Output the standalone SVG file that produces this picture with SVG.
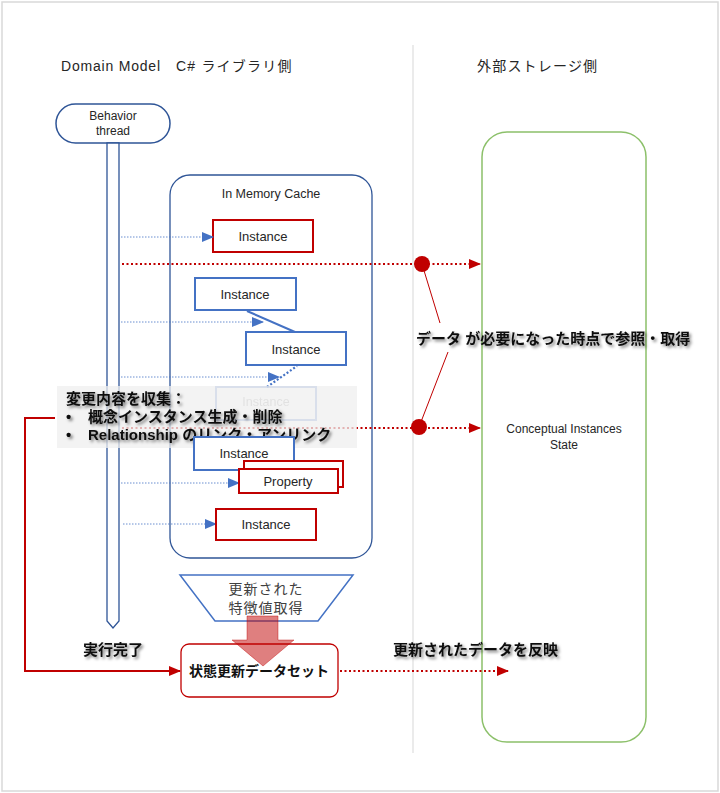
<svg xmlns="http://www.w3.org/2000/svg" width="720" height="793" viewBox="0 0 720 793">
<style>
.t{font-family:"Liberation Sans","Noto Sans CJK JP",sans-serif;fill:#262626}
.lbl{font-size:13px;text-anchor:middle}
.hd{font-size:14px;letter-spacing:0.8px;fill:#262626}
.b{font-family:"Liberation Sans","Noto Sans CJK JP",sans-serif;font-weight:bold;font-size:15px;fill:#111}
.ri{fill:#fff;stroke:#C00000;stroke-width:2}
.bi{fill:#fff;stroke:#4472C4;stroke-width:2}
.bd{stroke:#4472C4;stroke-width:0.8;stroke-dasharray:1.5 1.5;fill:none}
.rd{stroke:#C00000;stroke-width:2.2;stroke-dasharray:2 2.5;fill:none}
</style>
<defs>
<marker id="ab" markerWidth="12" markerHeight="10" refX="11" refY="5" orient="auto" markerUnits="userSpaceOnUse"><path d="M0,0 L12,5 L0,10 Z" fill="#4472C4"/></marker>
<marker id="ar" markerWidth="12" markerHeight="10" refX="11" refY="5" orient="auto" markerUnits="userSpaceOnUse"><path d="M0,0 L12,5 L0,10 Z" fill="#C00000"/></marker>
<filter id="sh" x="-10%" y="-40%" width="120%" height="180%"><feDropShadow dx="2" dy="2" stdDeviation="1.4" flood-color="#000" flood-opacity="0.5"/></filter>
</defs>
<rect x="0" y="0" width="720" height="793" fill="#fff"/>
<rect x="2" y="2" width="716" height="789" fill="none" stroke="#D9D9D9" stroke-width="1.5"/>
<line x1="413" y1="45" x2="413" y2="753" stroke="#EBEBEB" stroke-width="2"/>
<text class="t hd" x="61" y="71">Domain Model</text>
<text class="t hd" x="176" y="71" style="letter-spacing:1.2px">C# ライブラリ側</text>
<text class="t hd" x="477" y="71" style="letter-spacing:1.2px">外部ストレージ側</text>

<g id="thread">
<rect x="56" y="104" width="114" height="39" rx="19.5" fill="#fff" stroke="#2F5597" stroke-width="1.5"/>
<text class="t" x="113" y="120" font-size="12" text-anchor="middle">Behavior</text>
<text class="t" x="113" y="135" font-size="12" text-anchor="middle">thread</text>
<path d="M107,143 L119,143 L119,621 L113,628 L107,621 Z" fill="#fff" stroke="#2F5597" stroke-width="1.3"/>
</g>

<g id="cache">
<rect x="170" y="175" width="202" height="383" rx="20" fill="#fff" stroke="#2F5597" stroke-width="1.3"/>
<text class="t" x="271" y="198" font-size="12.5" text-anchor="middle">In Memory Cache</text>
</g>

<g id="storage">
<rect x="482" y="132" width="164" height="610" rx="25" fill="#fff" stroke="#8CC06A" stroke-width="1.5"/>
<text class="t" x="564" y="433" font-size="12" text-anchor="middle">Conceptual Instances</text>
<text class="t" x="564" y="449" font-size="12" text-anchor="middle">State</text>
</g>

<g id="inst1"><rect class="ri" x="213" y="220" width="100" height="32"/><text class="t lbl" x="263" y="241">Instance</text></g>
<g id="inst2"><rect class="bi" x="195" y="278" width="101" height="32"/><text class="t lbl" x="245" y="299">Instance</text></g>
<g id="inst3"><rect class="bi" x="246" y="332" width="100" height="33"/><text class="t lbl" x="296" y="354">Instance</text></g>
<g id="inst4" opacity="0.55"><rect class="bi" x="216" y="387" width="100" height="33" stroke="#6F93D6"/><text class="t lbl" x="266" y="406" style="fill:#808080;font-size:12.5px">Instance</text></g>

<g id="connectors">
<line class="bd" x1="121" y1="237" x2="213" y2="237" marker-end="url(#ab)"/>
<line class="bd" x1="121" y1="322" x2="263" y2="322" marker-end="url(#ab)"/>
<line x1="247" y1="311" x2="295" y2="332" stroke="#4472C4" stroke-width="2"/>
<line class="bd" x1="121" y1="377" x2="279" y2="377" marker-end="url(#ab)"/>
<line x1="267" y1="387" x2="297" y2="366" stroke="#4472C4" stroke-width="2.2" stroke-dasharray="2 2"/>
<line class="rd" x1="122" y1="264" x2="480" y2="264" marker-end="url(#ar)"/>
<line class="rd" x1="122" y1="428" x2="480" y2="428" marker-end="url(#ar)"/>
<line x1="422" y1="264" x2="440" y2="323" stroke="#C00000" stroke-width="1"/>
<line x1="448" y1="352" x2="419" y2="427" stroke="#C00000" stroke-width="1"/>
<circle cx="422" cy="264" r="8" fill="#C00000"/>
<circle cx="419" cy="427" r="8" fill="#C00000"/>
<line class="bd" x1="121" y1="483" x2="239" y2="483" marker-end="url(#ab)"/>
<line class="bd" x1="123" y1="524" x2="216" y2="524" marker-end="url(#ab)"/>
<path d="M55,418 L25,418 L25,671 L180,671" fill="none" stroke="#C00000" stroke-width="2" marker-end="url(#ar)"/>
<line class="rd" x1="340" y1="671" x2="508" y2="671" marker-end="url(#ar)"/>
</g>

<g id="note">
<rect x="57" y="386" width="300" height="62" fill="#EFEFEF" opacity="0.75"/>
<g filter="url(#sh)">
<text class="b" x="66" y="404">変更内容を収集：</text>
<text class="b" x="66" y="422">•</text>
<text class="b" x="88" y="422">概念インスタンス生成・削除</text>
<text class="b" x="66" y="440">•</text>
<text class="b" x="88" y="440">Relationship のリンク・アンリンク</text>
</g>
</g>

<g id="inst5"><rect class="bi" x="194" y="437" width="100" height="33"/><text class="t lbl" x="244" y="458">Instance</text></g>
<g id="prop"><rect class="ri" x="244" y="461" width="99" height="26"/><rect class="ri" x="239" y="469" width="99" height="24"/><text class="t lbl" x="288" y="486">Property</text></g>
<g id="inst6"><rect class="ri" x="216" y="509" width="100" height="31"/><text class="t lbl" x="266" y="529">Instance</text></g>

<g id="label-ref" filter="url(#sh)"><text class="b" x="416" y="344">データ が必要になった時点で参照・取得</text></g>

<g id="extract">
<path d="M180,575 L353,575 L318,621 L215,621 Z" fill="#fff" stroke="#4472C4" stroke-width="1.5"/>
<text class="t" x="266" y="594" font-size="14" text-anchor="middle" style="letter-spacing:1px;fill:#404040">更新された</text>
<text class="t" x="266" y="613" font-size="14" text-anchor="middle" style="letter-spacing:1px;fill:#404040">特徴値取得</text>
</g>

<g id="dataset">
<rect x="181" y="644" width="157" height="53" rx="8" fill="#fff" stroke="#C00000" stroke-width="1.3"/>
<text class="b" x="259" y="676" text-anchor="middle" style="font-size:14px">状態更新データセット</text>
</g>

<path id="bigarrow" d="M247,616 L278,616 L278,640 L294,640 L263,666 L232,640 L247,640 Z" fill="#C00000" fill-opacity="0.5" stroke="#C00000" stroke-opacity="0.4"/>

<g filter="url(#sh)">
<text class="b" x="83" y="655">実行完了</text>
<text class="b" x="393" y="655">更新されたデータを反映</text>
</g>
</svg>
